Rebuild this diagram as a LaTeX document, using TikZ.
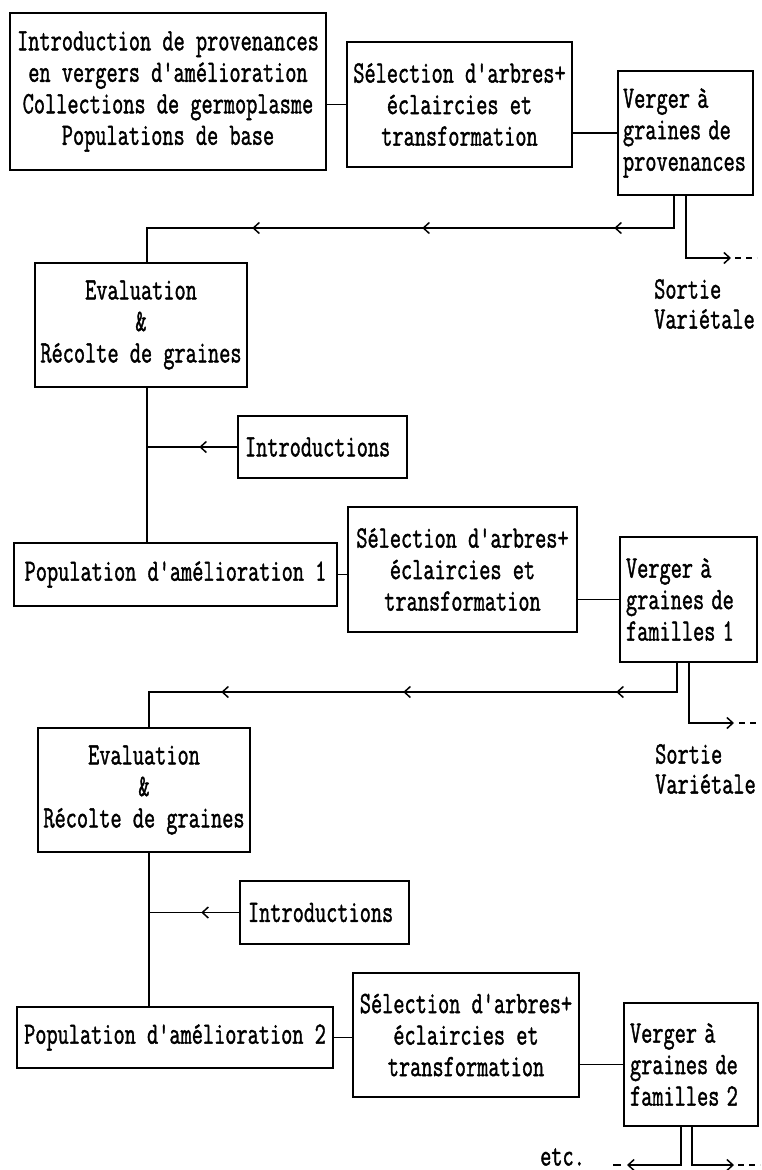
\documentclass[tikz,border=0pt]{standalone}
\usepackage{fontspec}
\setmonofont{Latin Modern Mono}[FakeBold=1.6]
\usepackage{graphicx}
\usetikzlibrary{arrows.meta,decorations.markings}
\newcommand\tx[1]{\scalebox{0.70}[1]{#1}}
\tikzset{
  chv/.tip={Straight Barb[length=6pt,width=11pt]},
  box/.style={draw, line width=1.5pt, inner sep=0pt,
    font=\fontsize{31}{31.5}\selectfont\ttfamily\bfseries, align=center},
  lbox/.style={box, align=left},
  lbl/.style={inner sep=0pt, font=\fontsize{31}{30}\selectfont\ttfamily\bfseries, align=left},
  etcst/.style={inner sep=0pt, font=\fontsize{31}{30}\selectfont\ttfamily\bfseries},
  conn/.style={line width=1.5pt},
  dsh/.style={line width=1.5pt, dash pattern=on 6pt off 5pt},
}
\begin{document}
\begin{tikzpicture}[x=1pt,y=-1pt]
\useasboundingbox (0,0) rectangle (761,1170);

% ---- row 1
\node[box, minimum width=316pt, minimum height=157pt] (b1) at (168,91.5)
  {\tx{Introduction de provenances}\\\tx{en vergers d'amélioration}\\\tx{Collections de germoplasme}\\\tx{Populations de base}};
\node[box, minimum width=225pt, minimum height=125pt] (s1) at (459.5,104.5)
  {\tx{Sélection d'arbres+}\\\tx{éclaircies et}\\\tx{transformation}};
\node[lbox, text width=125pt, minimum width=135pt, minimum height=124pt] (v1) at (685.5,133)
  {\tx{Verger à}\\\tx{graines de}\\\tx{provenances}};

% ---- block 2
\node[box, minimum width=212pt, minimum height=124pt] (e1) at (141,325)
  {\tx{Evaluation}\\\tx{\&}\\\tx{Récolte de graines}};
\node[lbox, text width=155pt, minimum width=169pt, minimum height=62pt] (i1) at (322.5,447)
  {\tx{Introductions}};
\node[box, minimum width=323pt, minimum height=63pt] (p1) at (175.5,574.5)
  {\tx{Population d'amélioration 1}};
\node[box, minimum width=229pt, minimum height=125pt] (s2) at (462.5,569.5)
  {\tx{Sélection d'arbres+}\\\tx{éclaircies et}\\\tx{transformation}};
\node[lbox, text width=125pt, minimum width=137pt, minimum height=125pt] (v2) at (688.5,599.5)
  {\tx{Verger à}\\\tx{graines de}\\\tx{familles 1}};

% ---- block 3
\node[box, minimum width=212pt, minimum height=124pt] (e2) at (144,790)
  {\tx{Evaluation}\\\tx{\&}\\\tx{Récolte de graines}};
\node[lbox, text width=153pt, minimum width=169pt, minimum height=63pt] (i2) at (324.5,912.5)
  {\tx{Introductions}};
\node[box, minimum width=316pt, minimum height=61pt] (p2) at (175,1037.5)
  {\tx{Population d'amélioration 2}};
\node[box, minimum width=226pt, minimum height=124pt] (s3) at (466,1035)
  {\tx{Sélection d'arbres+}\\\tx{éclaircies et}\\\tx{transformation}};
\node[lbox, text width=122pt, minimum width=134pt, minimum height=123pt] (v3) at (691,1064.5)
  {\tx{Verger à}\\\tx{graines de}\\\tx{familles 2}};

% ---- labels
\node[lbl, anchor=west] (so1) at (654,304) {\tx{Sortie}\\\tx{Variétale}};
\node[lbl, anchor=west] (so2) at (655,769) {\tx{Sortie}\\\tx{Variétale}};
\node[etcst, anchor=west] (etc) at (540,1157) {\tx{etc.}};

% ---- horizontal links
\draw[conn] (b1.east |- s1) -- (s1.west);
\draw[conn] (s1.east |- v1) -- (v1.west);
\draw[conn] (p1.east) -- (p1.east -| s2.west);
\draw[conn] (s2.east |- v2) -- (v2.west);
\draw[conn] (p2.east) -- (p2.east -| s3.west);
\draw[conn] (s3.east |- v3) -- (v3.west);

% ---- trunks
\coordinate (t1) at (147,0);
\coordinate (t2) at (149,0);
\draw[conn] (e1.south -| t1) -- (p1.north -| t1);
\draw[conn] (e2.south -| t2) -- (p2.north -| t2);
\draw[conn, postaction=decorate, decoration={markings,
   mark=at position 38pt with {\arrow{chv}}}] (i1.west) -- (i1.west -| t1);
\draw[conn, postaction=decorate, decoration={markings,
   mark=at position 38pt with {\arrow{chv}}}] (i2.west) -- (i2.west -| t2);

% ---- feedback loops
\coordinate (f1) at (674,228);
\draw[conn, postaction=decorate, decoration={markings,
   mark=at position 92pt with {\arrow{chv}},
   mark=at position 284pt with {\arrow{chv}},
   mark=at position 454pt with {\arrow{chv}}}]
  (v1.south -| f1) -- (f1) -- (f1 -| t1) -- (e1.north -| t1);
\coordinate (f2) at (677,692);
\draw[conn, postaction=decorate, decoration={markings,
   mark=at position 90pt with {\arrow{chv}},
   mark=at position 303pt with {\arrow{chv}},
   mark=at position 485pt with {\arrow{chv}}}]
  (v2.south -| f2) -- (f2) -- (f2 -| t2) -- (e2.north -| t2);

% ---- outputs
\coordinate (o1x) at (686,0);   \coordinate (o1) at (731,258);
\draw[conn, -{chv}] (v1.south -| o1x) |- (o1);
\draw[dsh] ([xshift=4pt]o1) -- ++(22pt,0);
\coordinate (o2x) at (689,0);   \coordinate (o2) at (734,723);
\draw[conn, -{chv}] (v2.south -| o2x) |- (o2);
\draw[dsh] ([xshift=5pt]o2) -- ++(21pt,0);
\coordinate (z1x) at (681,0);   \coordinate (z1) at (627,1165);
\draw[conn, -{chv}] (v3.south -| z1x) |- (z1);
\draw[conn] ([xshift=-6pt]z1) -- ++(-8pt,0);
\coordinate (z2x) at (692,0);   \coordinate (z2) at (734,1165);
\draw[conn, -{chv}] (v3.south -| z2x) |- (z2);
\draw[dsh] ([xshift=4pt]z2) -- ++(22pt,0);
\end{tikzpicture}
\end{document}
